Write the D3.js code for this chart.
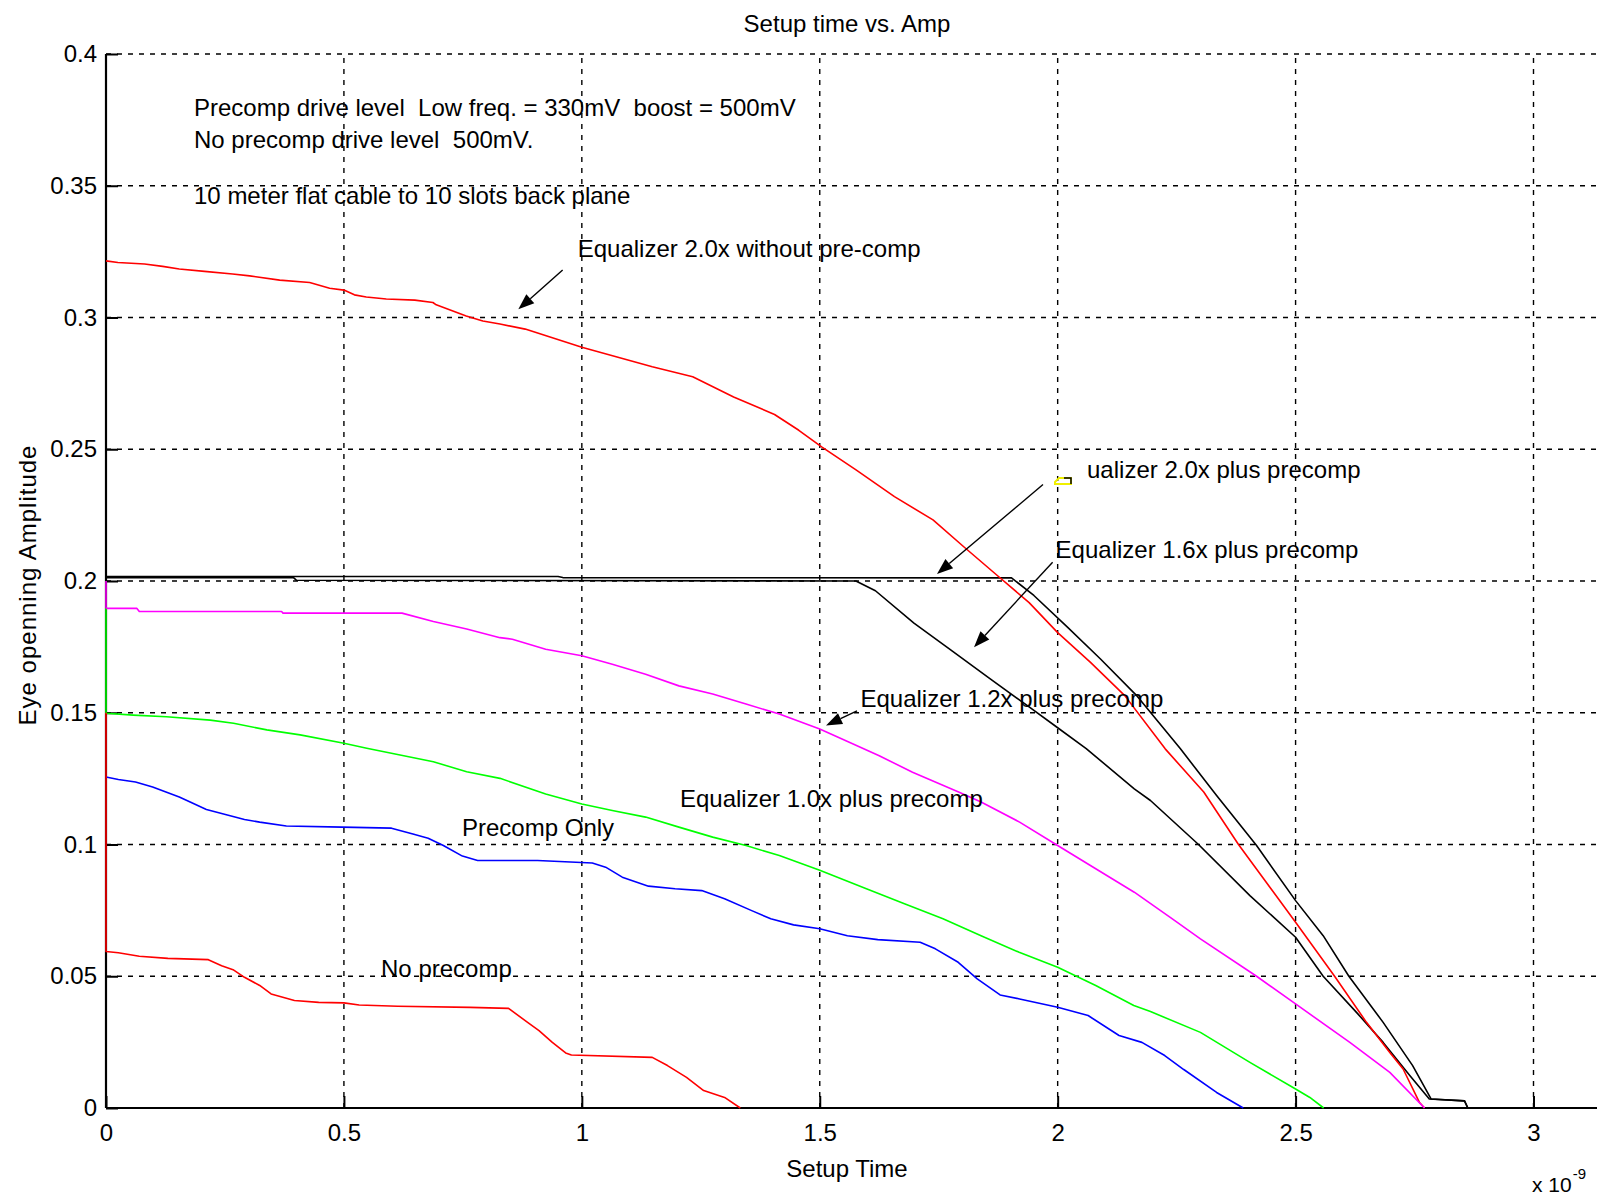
<!DOCTYPE html>
<html>
<head>
<meta charset="utf-8">
<script src="https://cdn.jsdelivr.net/npm/d3@7/dist/d3.min.js"></script>
<style>
  body { margin: 0; background: #fff; }
  text { font-family: Arial, "Liberation Sans", sans-serif; fill: #000; }
</style>
</head>
<body>
<div id="chart"></div>
<script>
//------------------------------DATA------------------------------//
// setup time in units of 1e-9 s, amplitude in V
var xTicks = [0, 0.5, 1, 1.5, 2, 2.5, 3];
var xTickLabels = ["0", "0.5", "1", "1.5", "2", "2.5", "3"];
var yTicks = [0, 0.05, 0.1, 0.15, 0.2, 0.25, 0.3, 0.35, 0.4];
var yTickLabels = ["0", "0.05", "0.1", "0.15", "0.2", "0.25", "0.3", "0.35", "0.4"];

var eq20NoPrecomp = [[0,0.3215],[0.025,0.3209],[0.081,0.3203],[0.119,0.3194],[0.154,0.3184],[0.207,0.3175],
  [0.266,0.3165],[0.302,0.3158],[0.365,0.3142],[0.428,0.3133],[0.47,0.3111],[0.5,0.3104],[0.522,0.3086],
  [0.547,0.3078],[0.589,0.307],[0.649,0.3066],[0.687,0.3057],[0.694,0.3048],[0.757,0.3006],[0.792,0.2987],
  [0.828,0.2975],[0.881,0.2956],[1.0,0.2887],[1.148,0.2813],[1.233,0.2775],[1.319,0.2698],[1.405,0.2632],
  [1.456,0.2572],[1.504,0.2509],[1.577,0.2421],[1.657,0.232],[1.738,0.2232],[1.802,0.2131],[1.875,0.2018],
  [1.94,0.1918],[2.0,0.1804],[2.069,0.1691],[2.141,0.1565],[2.226,0.1363],[2.307,0.1199],[2.38,0.1],
  [2.5,0.0705],[2.582,0.05],[2.649,0.0325],[2.698,0.0211],[2.726,0.0148],[2.76,0.0022],[2.771,0]];

var eq20Precomp = [[0,0.2017],[0.95,0.2017],[0.96,0.2013],[1.903,0.2012],[1.95,0.1945],[2.02,0.1826],
  [2.09,0.1704],[2.165,0.1567],[2.258,0.1363],[2.334,0.1186],[2.418,0.0996],[2.5,0.0787],[2.558,0.0654],
  [2.612,0.05],[2.684,0.0325],[2.746,0.0161],[2.785,0.0034],[2.855,0.0027],[2.862,0]];

var eq16Precomp = [[0,0.2013],[0.394,0.2013],[0.4,0.2003],[1.576,0.2],[1.617,0.1963],[1.698,0.184],
  [1.778,0.1735],[1.859,0.1628],[1.94,0.1522],[2.0,0.1443],[2.06,0.1364],[2.161,0.1211],[2.195,0.1167],
  [2.296,0.1],[2.404,0.0806],[2.5,0.0648],[2.558,0.05],[2.628,0.0363],[2.684,0.0249],[2.74,0.0123],
  [2.781,0.0034],[2.855,0.0027],[2.862,0]];

var eq12Precomp = [[0,0.2],[0,0.1896],[0.065,0.1896],[0.07,0.1884],[0.369,0.1884],[0.372,0.1878],
  [0.622,0.1878],[0.688,0.1846],[0.758,0.1818],[0.828,0.1785],[0.854,0.1779],[0.924,0.1741],[1.0,0.1716],
  [1.064,0.1684],[1.134,0.1646],[1.204,0.1602],[1.275,0.1571],[1.345,0.1533],[1.415,0.1495],[1.5,0.1438],
  [1.555,0.1394],[1.625,0.1337],[1.695,0.1274],[1.793,0.1198],[1.839,0.1161],[1.92,0.1085],[2.0,0.0996],
  [2.08,0.0908],[2.161,0.0819],[2.241,0.0718],[2.3,0.0642],[2.418,0.05],[2.5,0.0395],[2.614,0.0249],
  [2.698,0.0135],[2.771,0]];

var eq10Precomp = [[0,0.1896],[0,0.1498],[0.057,0.1491],[0.127,0.1485],[0.219,0.1472],[0.268,0.146],
  [0.338,0.1435],[0.408,0.1416],[0.5,0.1384],[0.548,0.1365],[0.618,0.134],[0.688,0.1314],[0.758,0.1276],
  [0.828,0.1251],[0.924,0.1192],[1.0,0.1154],[1.064,0.1129],[1.134,0.1104],[1.204,0.1066],[1.275,0.1028],
  [1.345,0.0996],[1.415,0.0958],[1.5,0.0902],[1.598,0.0832],[1.678,0.0775],[1.759,0.0718],[1.839,0.0654],
  [1.919,0.0591],[2.0,0.0534],[2.08,0.0465],[2.16,0.0389],[2.195,0.0366],[2.3,0.0287],[2.404,0.0173],
  [2.5,0.0072],[2.53,0.004],[2.559,0]];

var precompOnly = [[0,0.1256],[0.026,0.1247],[0.062,0.1237],[0.098,0.1218],[0.126,0.1199],[0.154,0.118],
  [0.178,0.116],[0.211,0.1133],[0.259,0.111],[0.291,0.1095],[0.323,0.1085],[0.379,0.107],[0.496,0.1066],
  [0.6,0.1062],[0.645,0.104],[0.677,0.1024],[0.709,0.0996],[0.749,0.0956],[0.781,0.0939],[0.907,0.0939],
  [1.022,0.093],[1.05,0.0914],[1.085,0.0876],[1.14,0.0842],[1.196,0.0832],[1.252,0.0825],[1.3,0.0794],
  [1.357,0.0749],[1.397,0.0718],[1.445,0.0695],[1.5,0.068],[1.558,0.0654],[1.622,0.0639],[1.711,0.0629],
  [1.743,0.0604],[1.791,0.0553],[1.831,0.049],[1.879,0.0429],[1.92,0.0414],[2.0,0.0382],[2.064,0.0351],
  [2.129,0.0275],[2.177,0.0249],[2.225,0.0199],[2.265,0.0146],[2.334,0.0059],[2.39,0]];

var noPrecomp = [[0,0.15],[0,0.0594],[0.026,0.0589],[0.07,0.0576],[0.13,0.0568],[0.215,0.0563],
  [0.243,0.054],[0.267,0.0525],[0.291,0.0496],[0.323,0.0465],[0.347,0.0433],[0.396,0.0408],[0.447,0.0401],
  [0.5,0.0399],[0.532,0.0391],[0.613,0.0386],[0.765,0.0382],[0.846,0.0378],[0.886,0.0325],[0.91,0.0294],
  [0.938,0.0249],[0.966,0.0209],[0.978,0.0201],[1.148,0.0192],[1.18,0.0161],[1.22,0.0116],[1.256,0.0066],
  [1.3,0.004],[1.333,0]];

// text notes, placed in data units
var notes = [
  {x: 0.185, y: 0.3766, text: "Precomp drive level  Low freq. = 330mV  boost = 500mV"},
  {x: 0.185, y: 0.3644, text: "No precomp drive level  500mV."},
  {x: 0.185, y: 0.3431, text: "10 meter flat cable to 10 slots back plane"},
  {x: 0.9913, y: 0.3228, text: "Equalizer 2.0x without pre-comp"},
  {x: 2.0617, y: 0.2391, text: "ualizer 2.0x plus precomp"},
  {x: 1.9957, y: 0.2086, text: "Equalizer 1.6x plus precomp"},
  {x: 1.5856, y: 0.152, text: "Equalizer 1.2x plus precomp"},
  {x: 1.2063, y: 0.1143, text: "Equalizer 1.0x plus precomp"},
  {x: 0.7482, y: 0.1032, text: "Precomp Only"},
  {x: 0.578, y: 0.0497, text: "No precomp"}
];

// arrows: [x1, y1, x2 (tip), y2 (tip)]
var arrows = [
  [0.9597, 0.318, 0.8665, 0.3031],
  [1.9692, 0.2366, 1.7465, 0.2027],
  [1.9894, 0.2071, 1.8242, 0.1749],
  [1.5783, 0.1507, 1.5132, 0.1452]
];

//----------------------------SETUP-----------------------------//
var W = 1597, H = 1195;

var svg = d3.select("#chart").append("svg")
    .attr("width", W)
    .attr("height", H)
    .style("background", "#fff");

var x = d3.scaleLinear().domain([0, 3]).range([106, 1533.5]);
var y = d3.scaleLinear().domain([0, 0.4]).range([1108, 54]);

//-----------------------------GRID-----------------------------//
var grid = svg.append("g")
    .attr("stroke", "#000")
    .attr("stroke-width", 1.4)
    .attr("stroke-dasharray", "5,6");

grid.selectAll(".hgrid")
    .data(yTicks.slice(1))
    .enter().append("line")
    .attr("x1", x(0)).attr("x2", W)
    .attr("y1", function(d) { return y(d); })
    .attr("y2", function(d) { return y(d); });

grid.selectAll(".vgrid")
    .data(xTicks.slice(1))
    .enter().append("line")
    .attr("y1", y(0)).attr("y2", y(0.4))
    .attr("x1", function(d) { return x(d); })
    .attr("x2", function(d) { return x(d); });

//-----------------------------AXES-----------------------------//
var xaxis = d3.axisBottom(x)
    .tickValues(xTicks)
    .tickFormat(function(d, i) { return xTickLabels[i]; })
    .tickSize(-12)
    .tickSizeOuter(0)
    .tickPadding(16);

var yaxis = d3.axisLeft(y)
    .tickValues(yTicks)
    .tickFormat(function(d, i) { return yTickLabels[i]; })
    .tickSize(-12)
    .tickSizeOuter(0)
    .tickPadding(9);

var gx = svg.append("g")
    .attr("transform", "translate(0," + y(0) + ")")
    .call(xaxis);
gx.select(".domain").remove();

var gy = svg.append("g")
    .attr("transform", "translate(" + x(0) + ",0)")
    .call(yaxis);
gy.select(".domain").remove();

svg.selectAll(".tick line").attr("stroke", "#000").attr("stroke-width", 2);
svg.selectAll(".tick text")
    .style("font-family", "Arial, 'Liberation Sans', sans-serif")
    .style("font-size", "24px")
    .attr("fill", "#000");

// solid axis lines (x axis runs off the right edge like the original)
svg.append("line")
    .attr("x1", x(0)).attr("x2", W)
    .attr("y1", y(0)).attr("y2", y(0))
    .attr("stroke", "#000").attr("stroke-width", 2.2);
svg.append("line")
    .attr("x1", x(0)).attr("x2", x(0))
    .attr("y1", y(0)).attr("y2", y(0.4))
    .attr("stroke", "#000").attr("stroke-width", 2.2);

//----------------------------LINES-----------------------------//
var line = d3.line()
    .x(function(d) { return x(d[0]); })
    .y(function(d) { return y(d[1]); });

var series = [eq20Precomp, eq16Precomp, eq20NoPrecomp, eq12Precomp, eq10Precomp, precompOnly, noPrecomp];
var colors = ["#000000", "#000000", "#ff0000", "#ff00ff", "#00ff00", "#0000ff", "#ff0000"];

svg.selectAll(".serie")
    .data(series)
    .enter().append("path")
    .attr("class", "serie")
    .attr("d", line)
    .attr("fill", "none")
    .attr("stroke", function(d, i) { return colors[i]; })
    .attr("stroke-width", 1.6)
    .attr("stroke-linejoin", "round");

//-------------------------ANNOTATIONS--------------------------//
svg.selectAll(".note")
    .data(notes)
    .enter().append("text")
    .attr("class", "note")
    .attr("x", function(d) { return x(d.x); })
    .attr("y", function(d) { return y(d.y); })
    .style("font-size", "24px")
    .style("white-space", "pre")
    .text(function(d) { return d.text; });

var head = 16, halfW = 6;
arrows.forEach(function(a) {
    var x1 = x(a[0]), y1 = y(a[1]), x2 = x(a[2]), y2 = y(a[3]);
    var ang = Math.atan2(y2 - y1, x2 - x1);
    var bx = x2 - head * Math.cos(ang), by = y2 - head * Math.sin(ang);
    svg.append("line")
        .attr("x1", x1).attr("y1", y1).attr("x2", bx).attr("y2", by)
        .attr("stroke", "#000").attr("stroke-width", 1.4);
    var px = -Math.sin(ang) * halfW, py = Math.cos(ang) * halfW;
    svg.append("path")
        .attr("d", "M" + x2 + "," + y2 + "L" + (bx + px) + "," + (by + py) + "L" + (bx - px) + "," + (by - py) + "Z")
        .attr("fill", "#000");
});

// small yellow marker left over in front of the cut label
var mk = {x: x(1.9944), y: y(0.2391)};
svg.append("path")
    .attr("d", "M" + mk.x + "," + (mk.y + 4) + "l4,-4h12v6h-16z")
    .attr("fill", "none").attr("stroke", "#f0f000").attr("stroke-width", 2);
svg.append("path")
    .attr("d", "M" + (mk.x + 9) + "," + mk.y + "h7v6")
    .attr("fill", "none").attr("stroke", "#000").attr("stroke-width", 1.5);

//----------------------------LABELS----------------------------//
svg.append("text")
    .attr("x", 847).attr("y", 32)
    .attr("text-anchor", "middle")
    .style("font-size", "24px")
    .text("Setup time vs. Amp");

svg.append("text")
    .attr("x", 847).attr("y", 1177)
    .attr("text-anchor", "middle")
    .style("font-size", "24px")
    .text("Setup Time");

svg.append("text")
    .attr("transform", "translate(36," + 585 + ") rotate(-90)")
    .attr("text-anchor", "middle")
    .style("font-size", "24px")
    .style("letter-spacing", "1px")
    .text("Eye openning Amplitude");

var expo = svg.append("text")
    .attr("x", 1532).attr("y", 1192)
    .style("font-size", "21px");
expo.append("tspan").text("x 10");
expo.append("tspan").attr("dy", -13).attr("dx", 1).style("font-size", "15px").text("-9");
</script>
</body>
</html>
